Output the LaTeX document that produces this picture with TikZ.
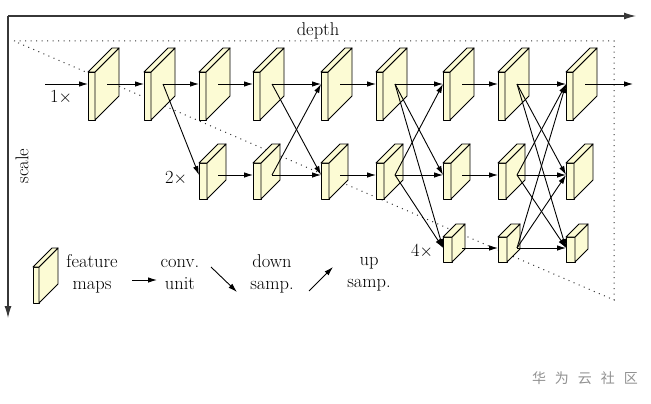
\documentclass[tikz,border=0pt]{standalone}
\usepackage{fontspec}
\newfontfamily\cjk{Noto Sans CJK SC}
\usetikzlibrary{arrows.meta}
\definecolor{fmfill}{RGB}{252,251,212}
\definecolor{axisgray}{RGB}{55,55,55}
\definecolor{wmgray}{RGB}{145,145,145}
\tikzset{
  fmline/.style={draw=black, fill=fmfill, line width=0.9pt, line join=round},
  conn/.style={-{Latex[length=9pt,width=5.5pt]}, line width=0.9pt},
  axisline/.style={-{Latex[length=12pt,width=7pt]}, line width=1.1pt, draw=axisgray},
  tri/.style={line width=1pt, dash pattern=on 1pt off 4.5pt, draw=black!80},
  lbl/.style={font=\fontsize{18.5}{22}\selectfont, inner sep=0pt, align=center},
}
% name, x, front top, w, h, d, arrow y
\newcommand\fmap[7]{%
  \draw[fmline] (#2,#3) rectangle ({#2+#4},{#3+#5});
  \draw[fmline] ({#2+#4},#3) -- ++(#6,-#6) -- ++(0,#5) -- ({#2+#4},{#3+#5}) -- cycle;
  \draw[fmline] (#2,#3) -- ++(#6,-#6) -- ++(#4,0) -- ({#2+#4},#3) -- cycle;
  \coordinate (#1) at ({#2+19},#7);
  \coordinate (#1w) at (#2,#7);
}
\newcommand\fmA[2]{\fmap{#1}{#2}{72}{7}{48}{24}{84}}
\newcommand\fmB[2]{\fmap{#1}{#2}{163}{8}{36}{19}{175}}
\newcommand\fmC[2]{\fmap{#1}{#2}{237}{9}{25}{13}{248}}
\begin{document}
\begin{tikzpicture}[x=1pt,y=-1pt]
\useasboundingbox (0,0) rectangle (651,404);
% axes
\coordinate (O) at (8,16);
\coordinate (Dend) at (636,16);
\coordinate (Send) at (8,318);
\draw[axisline] (O) -- (Dend);
\draw[axisline] (O) -- (Send);
\node[lbl] (depth) at (318,31) {depth};
\node[lbl, rotate=90] (scale) at (22,166) {scale};
% dotted triangle
\coordinate (T1) at (14,41);
\coordinate (T2) at (614,41);
\coordinate (T3) at (614,300);
\draw[tri] (T1) -- (T2) -- (T3) -- cycle;
% feature maps
\fmA{r1c1}{88}\fmA{r1c2}{144}\fmA{r1c3}{199}\fmA{r1c4}{253}\fmA{r1c5}{321}
\fmA{r1c6}{376}\fmA{r1c7}{443}\fmA{r1c8}{498}\fmA{r1c9}{566}
\fmB{r2c3}{199}\fmB{r2c4}{253}\fmB{r2c5}{321}\fmB{r2c6}{376}
\fmB{r2c7}{443}\fmB{r2c8}{498}\fmB{r2c9}{566}
\fmC{r3c7}{443}\fmC{r3c8}{498}\fmC{r3c9}{566}
% scale labels
\node[lbl] (l1) at (61,97) {1$\times$};
\node[lbl] (l2) at (176,178) {2$\times$};
\node[lbl] (l4) at (422,251) {4$\times$};
% row 1
\coordinate (in) at (45,84);
\coordinate (out) at (633,84);
\draw[conn] (in) -- (r1c1w);
\foreach \a/\b in {1/2,2/3,3/4,4/5,5/6,6/7,7/8,8/9} \draw[conn] (r1c\a) -- (r1c\b w);
\draw[conn] (r1c9) -- (out);
% row 2
\foreach \a/\b in {3/4,4/5,5/6,6/7,7/8,8/9} \draw[conn] (r2c\a) -- (r2c\b w);
% row 3
\foreach \a/\b in {7/8,8/9} \draw[conn] (r3c\a) -- (r3c\b w);
% cross-scale
\draw[conn] (r1c2) -- (r2c3w);
\draw[conn] (r1c4) -- (r2c5w);
\draw[conn] (r2c4) -- (r1c5w);
\draw[conn] (r1c6) -- (r2c7w);
\draw[conn] (r1c6) -- (r3c7w);
\draw[conn] (r2c6) -- (r1c7w);
\draw[conn] (r2c6) -- (r3c7w);
\draw[conn] (r1c8) -- (r2c9w);
\draw[conn] (r1c8) -- (r3c9w);
\draw[conn] (r2c8) -- (r1c9w);
\draw[conn] (r2c8) -- (r3c9w);
\draw[conn] (r3c8) -- (r1c9w);
\draw[conn] (r3c8) -- (r2c9w);
% legend
\fmap{leg}{33}{267}{6}{36}{19}{285}
\node[lbl] (lfm) at (92,274) {feature\\maps};
\coordinate (ca) at (132,280); \coordinate (cb) at (157,280);
\draw[conn] (ca) -- (cb);
\node[lbl] (lcu) at (180,274) {conv.\\unit};
\coordinate (da) at (211,267); \coordinate (db) at (237,292);
\draw[conn] (da) -- (db);
\node[lbl] (lds) at (272,274) {down\\samp.};
\coordinate (ua) at (309,291); \coordinate (ub) at (333,267);
\draw[conn] (ua) -- (ub);
\node[lbl] (lus) at (369,274) {up\\samp.};
% watermark
\node[inner sep=0pt, text=wmgray, font=\cjk\fontsize{14}{16}\selectfont] (wm) at (585,378)
  {华\hspace{9pt}为\hspace{9pt}云\hspace{9pt}社\hspace{9pt}区};
\end{tikzpicture}
\end{document}
